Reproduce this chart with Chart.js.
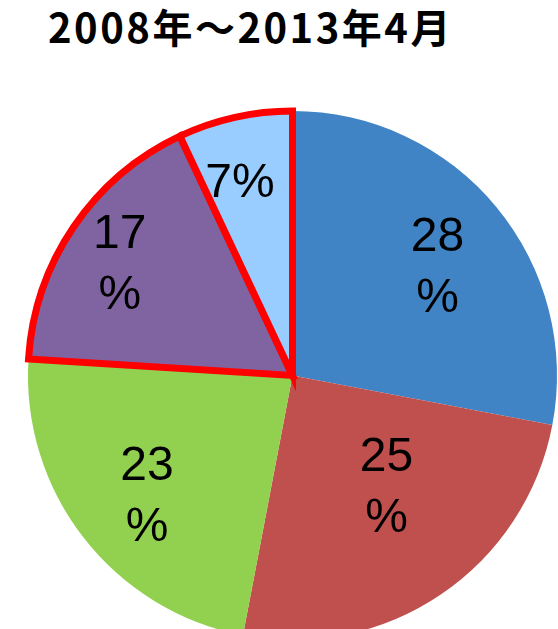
<!DOCTYPE html>
<html lang="ja">
<head>
<meta charset="utf-8">
<script src="https://cdn.jsdelivr.net/npm/chart.js@4"></script>
<style>
  html, body { margin: 0; padding: 0; background: #fff; overflow: hidden; }
  body { width: 558px; height: 629px; position: relative; }
  #titre {
    position: absolute; left: 48px; top: 2px;
    font-family: "Noto Sans CJK JP", sans-serif; font-weight: 700;
    font-size: 40px; line-height: 48px; color: #000; white-space: nowrap;
    letter-spacing: 2.5px;
  }
  #zone { position: absolute; left: 0; top: 83px; width: 585px; height: 585px; }
</style>
</head>
<body>
<div id="titre">2008年～2013年4月</div>
<div id="zone"><canvas id="camembert" width="585" height="585"></canvas></div>
<script>
// Parts (en %), dans le sens horaire depuis midi
const parts = [28, 25, 23, 17, 7];
const couleurs = ['#4184C6', '#C0504D', '#92D050', '#8064A2', '#99CCFF'];
// Etiquettes : lignes de texte pour chaque part
const etiquettes = [['28', '%'], ['25', '%'], ['23', '%'], ['17', '%'], ['7%']];
// Position des étiquettes : fraction du rayon et décalage angulaire (degrés)
const etiqRayon = [0.681, 0.554, 0.717, 0.775, 0.752];
const etiqDecalage = [3.2, -5.7, -2.1, -1.6, -2.7];
// Les deux dernières parts sont entourées en rouge
const bordures = [0, 0, 0, 7, 7];

const pluginEtiquettes = {
  id: 'etiquettes',
  afterDatasetsDraw(chart) {
    const ctx = chart.ctx;
    const arcs = chart.getDatasetMeta(0).data;
    ctx.save();
    ctx.fillStyle = '#000';
    ctx.font = '48px "Liberation Sans", Arial, sans-serif';
    ctx.textAlign = 'center';
    ctx.textBaseline = 'middle';
    arcs.forEach((arc, i) => {
      const p = arc.getProps(['x', 'y', 'startAngle', 'endAngle', 'outerRadius'], true);
      const milieu = (p.startAngle + p.endAngle) / 2 + etiqDecalage[i] * Math.PI / 180;
      const r = p.outerRadius * etiqRayon[i];
      const cx = p.x + Math.cos(milieu) * r;
      const cy = p.y + Math.sin(milieu) * r;
      const lignes = etiquettes[i];
      const pas = 61;
      lignes.forEach((txt, j) => {
        ctx.fillText(txt, cx, cy + (j - (lignes.length - 1) / 2) * pas);
      });
    });
    ctx.restore();
  }
};

const ctx = document.getElementById('camembert').getContext('2d');
new Chart(ctx, {
  type: 'pie',
  data: {
    labels: etiquettes.map(l => l.join('')),
    datasets: [{
      data: parts,
      backgroundColor: couleurs,
      borderColor: bordures.map(b => b ? '#FF0000' : 'rgba(0,0,0,0)'),
      borderWidth: bordures,
      borderJoinStyle: 'miter',
      hoverOffset: 0
    }]
  },
  options: {
    responsive: false,
    animation: false,
    events: [],
    radius: 264.5,
    layout: { padding: 0 },
    plugins: {
      legend: { display: false },
      tooltip: { enabled: false },
      title: { display: false }
    }
  },
  plugins: [pluginEtiquettes]
});
</script>
</body>
</html>
